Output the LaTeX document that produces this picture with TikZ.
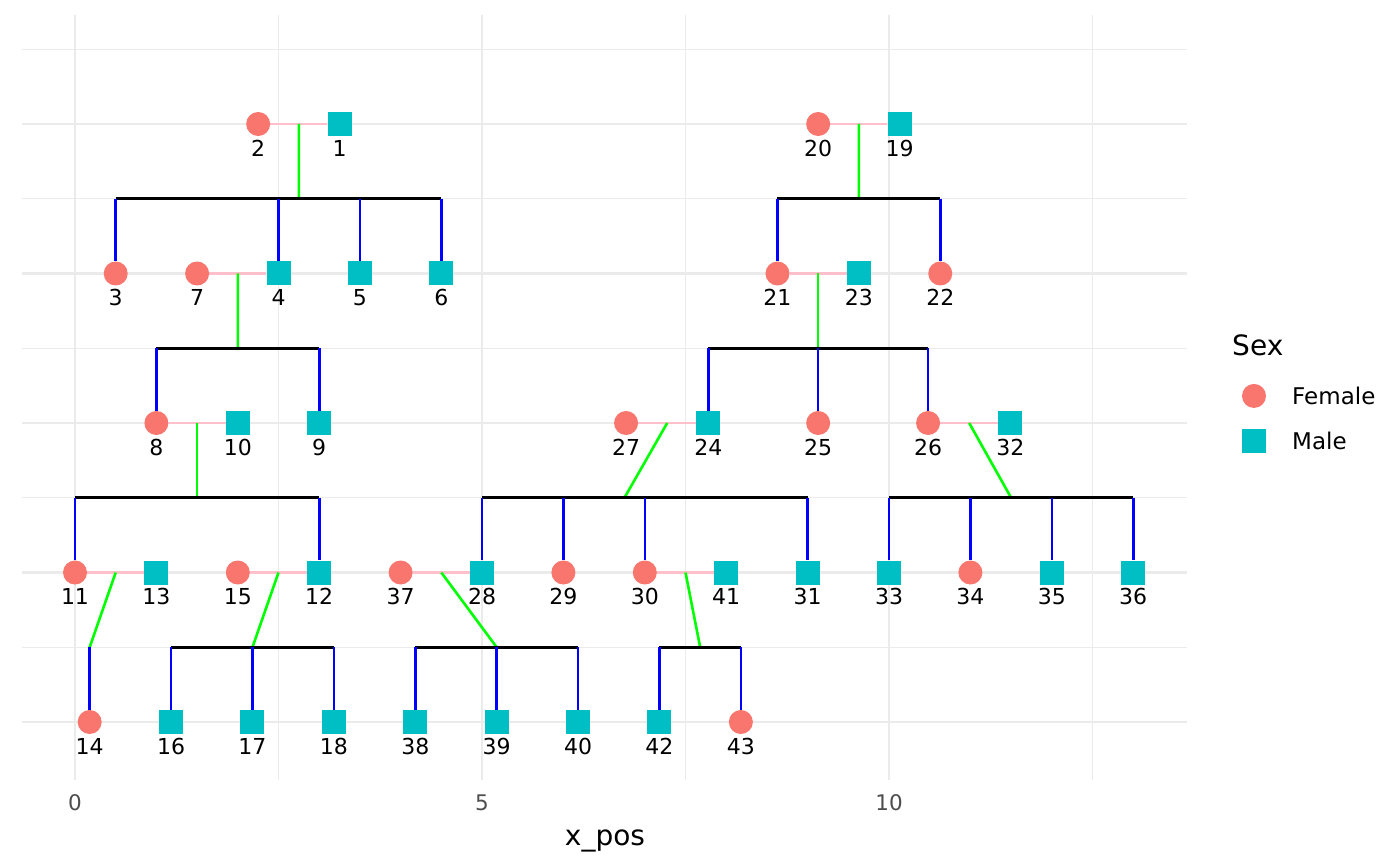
\documentclass[tikz,border=0pt]{standalone}
\usepackage{fontspec}
\setmainfont{DejaVu Sans}
\usetikzlibrary{calc}
\pgfdeclarelayer{grid}
\pgfdeclarelayer{lines}
\pgfsetlayers{grid,lines,main}
\definecolor{femcol}{HTML}{F8766D}
\definecolor{malcol}{HTML}{00BFC4}
\definecolor{gridcol}{HTML}{EBEBEB}
\definecolor{tickcol}{HTML}{4D4D4D}
\definecolor{spousecol}{HTML}{FFC0CB}

\begin{document}
\begin{tikzpicture}[
  x=81.4pt, y=-149.5pt,
  lbl/.style={inner sep=0pt, anchor=center, yshift=-12pt, font=\fontsize{22}{24}\selectfont},
  fem/.style={circle, fill=femcol, minimum size=24pt, inner sep=0pt},
  mal/.style={rectangle, fill=malcol, minimum size=24pt, inner sep=0pt},
  spouse/.style={draw=spousecol, line width=2.6pt},
  link/.style={draw=green, line width=2.6pt},
  bar/.style={draw=black, line width=2.6pt},
  kid/.style={draw=blue, line width=2.6pt},
  gmajor/.style={draw=gridcol, line width=2.2pt},
  gminor/.style={draw=gridcol, line width=1.1pt},
  tick/.style={anchor=base, inner sep=0pt, text=tickcol, font=\fontsize{21.5}{24}\selectfont},
  legtxt/.style={anchor=west, inner sep=0pt, font=\fontsize{23}{26}\selectfont}
]
\useasboundingbox (-0.9214,-0.8294) rectangle (16.2776,4.9632);

\begin{pgfonlayer}{grid}
\fill[white] (-0.9214,-0.8294) rectangle (16.2776,4.9632);
\foreach \gx in {2.5,7.5,12.5} \draw[gminor] (\gx,-0.729) -- (\gx,4.388);
\foreach \gy in {-0.5,0.5,1.5,2.5,3.5} \draw[gminor] (-0.651,\gy) -- (13.661,\gy);
\foreach \gx in {0,5,10} \draw[gmajor] (\gx,-0.729) -- (\gx,4.388);
\foreach \gy in {0,...,4} \draw[gmajor] (-0.651,\gy) -- (13.661,\gy);
\end{pgfonlayer}

% generation 1
\node[fem, label={[lbl]below:2}] (p2) at (2.25,0) {};
\node[mal, label={[lbl]below:1}] (p1) at (3.25,0) {};
\node[fem, label={[lbl]below:20}] (p20) at (9.13,0) {};
\node[mal, label={[lbl]below:19}] (p19) at (10.13,0) {};
% generation 2
\node[fem, label={[lbl]below:3}] (p3) at (0.5,1) {};
\node[fem, label={[lbl]below:7}] (p7) at (1.5,1) {};
\node[mal, label={[lbl]below:4}] (p4) at (2.5,1) {};
\node[mal, label={[lbl]below:5}] (p5) at (3.5,1) {};
\node[mal, label={[lbl]below:6}] (p6) at (4.5,1) {};
\node[fem, label={[lbl]below:21}] (p21) at (8.63,1) {};
\node[mal, label={[lbl]below:23}] (p23) at (9.63,1) {};
\node[fem, label={[lbl]below:22}] (p22) at (10.63,1) {};
% generation 3
\node[fem, label={[lbl]below:8}] (p8) at (1,2) {};
\node[mal, label={[lbl]below:10}] (p10) at (2,2) {};
\node[mal, label={[lbl]below:9}] (p9) at (3,2) {};
\node[fem, label={[lbl]below:27}] (p27) at (6.77,2) {};
\node[mal, label={[lbl]below:24}] (p24) at (7.78,2) {};
\node[fem, label={[lbl]below:25}] (p25) at (9.13,2) {};
\node[fem, label={[lbl]below:26}] (p26) at (10.48,2) {};
\node[mal, label={[lbl]below:32}] (p32) at (11.49,2) {};
% generation 4
\node[fem, label={[lbl]below:11}] (p11) at (0,3) {};
\node[mal, label={[lbl]below:13}] (p13) at (1,3) {};
\node[fem, label={[lbl]below:15}] (p15) at (2,3) {};
\node[mal, label={[lbl]below:12}] (p12) at (3,3) {};
\node[fem, label={[lbl]below:37}] (p37) at (4,3) {};
\node[mal, label={[lbl]below:28}] (p28) at (5,3) {};
\node[fem, label={[lbl]below:29}] (p29) at (6,3) {};
\node[fem, label={[lbl]below:30}] (p30) at (7,3) {};
\node[mal, label={[lbl]below:41}] (p41) at (8,3) {};
\node[mal, label={[lbl]below:31}] (p31) at (9,3) {};
\node[mal, label={[lbl]below:33}] (p33) at (10,3) {};
\node[fem, label={[lbl]below:34}] (p34) at (11,3) {};
\node[mal, label={[lbl]below:35}] (p35) at (12,3) {};
\node[mal, label={[lbl]below:36}] (p36) at (13,3) {};
% generation 5
\node[fem, label={[lbl]below:14}] (p14) at (0.18,4) {};
\node[mal, label={[lbl]below:16}] (p16) at (1.18,4) {};
\node[mal, label={[lbl]below:17}] (p17) at (2.18,4) {};
\node[mal, label={[lbl]below:18}] (p18) at (3.18,4) {};
\node[mal, label={[lbl]below:38}] (p38) at (4.18,4) {};
\node[mal, label={[lbl]below:39}] (p39) at (5.18,4) {};
\node[mal, label={[lbl]below:40}] (p40) at (6.18,4) {};
\node[mal, label={[lbl]below:42}] (p42) at (7.18,4) {};
\node[fem, label={[lbl]below:43}] (p43) at (8.18,4) {};

% couples and their children
\coordinate (m1) at ($(p2)!0.5!(p1)$);
\coordinate (c1) at (2.75,0.5);
\coordinate (m2) at ($(p20)!0.5!(p19)$);
\coordinate (c2) at (9.63,0.5);
\coordinate (m3) at ($(p7)!0.5!(p4)$);
\coordinate (c3) at (2,1.5);
\coordinate (m4) at ($(p21)!0.5!(p23)$);
\coordinate (c4) at (9.13,1.5);
\coordinate (m5) at ($(p8)!0.5!(p10)$);
\coordinate (c5) at (1.5,2.5);
\coordinate (m6) at ($(p27)!0.5!(p24)$);
\coordinate (c6) at (6.75,2.5);
\coordinate (m7) at ($(p26)!0.5!(p32)$);
\coordinate (c7) at (11.5,2.5);
\coordinate (m8) at ($(p11)!0.5!(p13)$);
\coordinate (c8) at (0.18,3.5);
\coordinate (m9) at ($(p15)!0.5!(p12)$);
\coordinate (c9) at (2.18,3.5);
\coordinate (m10) at ($(p37)!0.5!(p28)$);
\coordinate (c10) at (5.18,3.5);
\coordinate (m11) at ($(p30)!0.5!(p41)$);
\coordinate (c11) at (7.68,3.5);

\begin{pgfonlayer}{lines}
\draw[spouse] (p2) -- (p1);
\draw[spouse] (p20) -- (p19);
\draw[spouse] (p7) -- (p4);
\draw[spouse] (p21) -- (p23);
\draw[spouse] (p8) -- (p10);
\draw[spouse] (p27) -- (p24);
\draw[spouse] (p26) -- (p32);
\draw[spouse] (p11) -- (p13);
\draw[spouse] (p15) -- (p12);
\draw[spouse] (p37) -- (p28);
\draw[spouse] (p30) -- (p41);

\draw[link] (m1) -- (c1);
\draw[link] (m2) -- (c2);
\draw[link] (m3) -- (c3);
\draw[link] (m4) -- (c4);
\draw[link] (m5) -- (c5);
\draw[link] (m6) -- (c6);
\draw[link] (m7) -- (c7);
\draw[link] (m8) -- (c8);
\draw[link] (m9) -- (c9);
\draw[link] (m10) -- (c10);
\draw[link] (m11) -- (c11);

\draw[bar] (p3 |- c1) -- (p6 |- c1);
\draw[bar] (p21 |- c2) -- (p22 |- c2);
\draw[bar] (p8 |- c3) -- (p9 |- c3);
\draw[bar] (p24 |- c4) -- (p26 |- c4);
\draw[bar] (p11 |- c5) -- (p12 |- c5);
\draw[bar] (p28 |- c6) -- (p31 |- c6);
\draw[bar] (p33 |- c7) -- (p36 |- c7);
\draw[bar] (p16 |- c9) -- (p18 |- c9);
\draw[bar] (p38 |- c10) -- (p40 |- c10);
\draw[bar] (p42 |- c11) -- (p43 |- c11);

\foreach \k in {3,4,5,6} \draw[kid] (p\k |- c1) -- (p\k);
\foreach \k in {21,22} \draw[kid] (p\k |- c2) -- (p\k);
\foreach \k in {8,9} \draw[kid] (p\k |- c3) -- (p\k);
\foreach \k in {24,25,26} \draw[kid] (p\k |- c4) -- (p\k);
\foreach \k in {11,12} \draw[kid] (p\k |- c5) -- (p\k);
\foreach \k in {28,29,30,31} \draw[kid] (p\k |- c6) -- (p\k);
\foreach \k in {33,34,35,36} \draw[kid] (p\k |- c7) -- (p\k);
\draw[kid] (c8) -- (p14);
\foreach \k in {16,17,18} \draw[kid] (p\k |- c9) -- (p\k);
\foreach \k in {38,39,40} \draw[kid] (p\k |- c10) -- (p\k);
\foreach \k in {42,43} \draw[kid] (p\k |- c11) -- (p\k);
\end{pgfonlayer}

% axis
\node[tick] (t0) at (0,4.594) {0};
\node[tick] (t5) at (5,4.594) {5};
\node[tick] (t10) at (10,4.594) {10};
\node[anchor=base, inner sep=0pt, font=\fontsize{28}{32}\selectfont] (xlab) at (6.511,4.823) {x\_pos};

% legend
\node[anchor=west, inner sep=0pt, font=\fontsize{28}{32}\selectfont] (legtitle) at (14.214,1.478) {Sex};
\node[fem] (legf) at (14.484,1.819) {};
\node[legtxt] (legftxt) at (14.951,1.819) {Female};
\node[mal] (legm) at (14.484,2.120) {};
\node[legtxt] (legmtxt) at (14.951,2.120) {Male};
\end{tikzpicture}
\end{document}
